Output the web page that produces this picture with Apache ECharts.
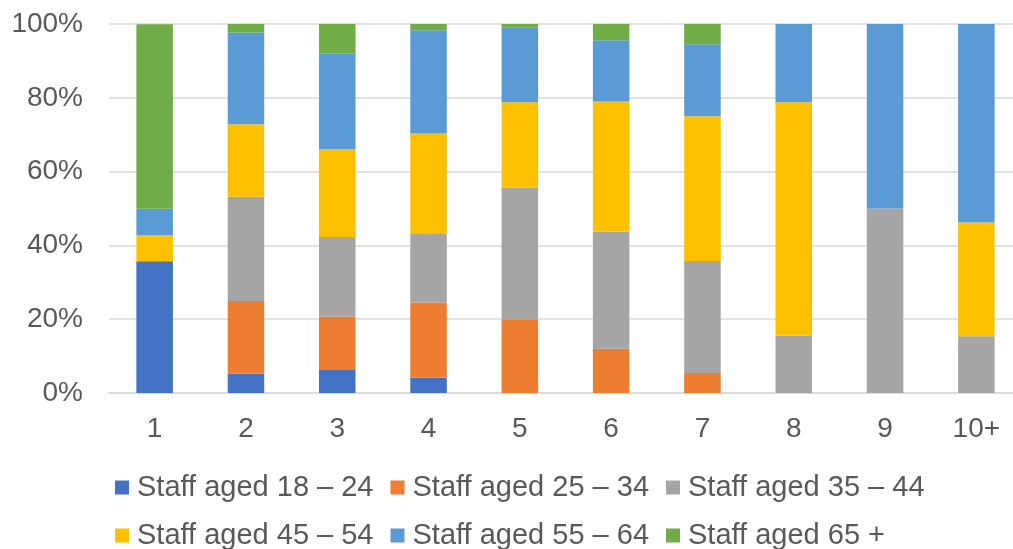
<!DOCTYPE html>
<html>
<head>
<meta charset="utf-8">
<script src="https://cdn.jsdelivr.net/npm/echarts@6/dist/echarts.min.js"></script>
<style>html,body{margin:0;padding:0;background:#fff;}#c{width:1013px;height:549px;}</style>
</head>
<body>
<div id="c"></div>
<script>
const categories = ['1','2','3','4','5','6','7','8','9','10+'];
const yTicks = [0,20,40,60,80,100];
const seriesNames = ['Staff aged 18 \u2013 24','Staff aged 25 \u2013 34','Staff aged 35 \u2013 44','Staff aged 45 \u2013 54','Staff aged 55 \u2013 64','Staff aged 65 +'];
const aged18_24 = [35.7, 5.2, 6.2, 4.1, 0, 0, 0, 0, 0, 0];
const aged25_34 = [0, 19.7, 14.5, 20.4, 20.0, 12.0, 5.4, 0, 0, 0];
const aged35_44 = [0, 28.3, 21.6, 18.6, 35.6, 31.7, 30.4, 15.6, 50, 15.4];
const aged45_54 = [7.1, 19.6, 23.8, 27.2, 23.2, 35.3, 39.2, 63.2, 0, 30.8];
const aged55_64 = [7.1, 24.9, 25.9, 28.0, 20.3, 16.6, 19.5, 21.2, 50, 53.8];
const aged65plus = [50, 2.3, 8.0, 1.7, 0.9, 4.4, 5.5, 0, 0, 0];
const colors = ['#4472C4','#ED7D31','#A5A5A5','#FFC000','#5B9BD5','#70AD47'];

const values = [aged18_24, aged25_34, aged35_44, aged45_54, aged55_64, aged65plus];
const font = 'Liberation Sans, Arial, sans-serif';
const chart = echarts.init(document.getElementById('c'));
const legendCommon = {
  left: 110, orient: 'horizontal', icon: 'rect', itemWidth: 14, itemHeight: 14, itemGap: 17,
  textStyle: { color: '#595959', fontSize: 29, fontFamily: font, padding: [0,0,0,3] },
  selectedMode: false
};
chart.setOption({
  animation: false,
  color: colors,
  grid: { left: 109, top: 24, width: 913, height: 369, containLabel: false, outerBoundsMode: 'none' },
  legend: [
    Object.assign({}, legendCommon, { data: seriesNames.slice(0,3), top: 468 }),
    Object.assign({}, legendCommon, { data: seriesNames.slice(3), top: 516 })
  ],
  xAxis: {
    type: 'category', data: categories,
    axisLine: { lineStyle: { color: '#D9D9D9', width: 1.5 } },
    axisTick: { show: false },
    axisLabel: { color: '#595959', fontSize: 28, fontFamily: font, margin: 22 }
  },
  yAxis: {
    type: 'value', min: yTicks[0], max: yTicks[yTicks.length-1], interval: 20,
    axisLine: { show: false }, axisTick: { show: false },
    axisLabel: { color: '#595959', fontSize: 28, fontFamily: font, margin: 26, formatter: '{value}%' },
    splitLine: { lineStyle: { color: '#D9D9D9', width: 1.5 } }
  },
  series: seriesNames.map((n, i) => ({
    name: n, type: 'bar', stack: 'total', barWidth: '40%', data: values[i],
    itemStyle: { color: colors[i] }
  }))
});
</script>
</body>
</html>
